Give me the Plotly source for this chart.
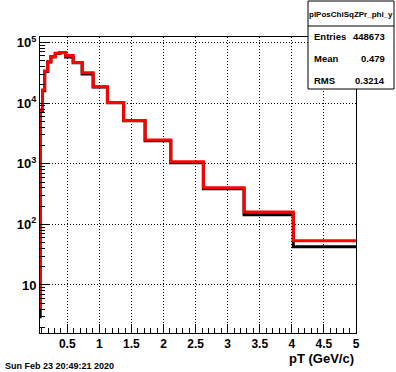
import plotly.graph_objects as go

# ---- data ----
pt_edges = [0.05, 0.078, 0.114, 0.148, 0.195, 0.245, 0.312, 0.382, 0.475, 0.592,
            0.732, 0.903, 1.126, 1.378, 1.713, 2.114, 2.621, 3.255, 4.023, 5.0]
red_counts = [4.2, 7690, 16400, 33900, 48200, 58300, 66400, 68400, 61000, 46800,
              31800, 18700, 10200, 5160, 2460, 1080, 402, 160, 53.6]
black_counts = [3.0, 7500, 16000, 33300, 47800, 58000, 66000, 67800, 57600, 46300,
                30200, 18400, 10100, 5100, 2400, 1040, 387, 144, 42.7]
y_tick_vals = [10, 100, 1000, 10000, 100000]
y_tick_text = ["10", "10<sup>2</sup>", "10<sup>3</sup>", "10<sup>4</sup>", "10<sup>5</sup>"]
stats_title = "plPosChiSqZPr_phi_y"
stats_rows = [("Entries", "448673"), ("Mean", "0.479"), ("RMS", "0.3214")]
x_title = "pT (GeV/c)"
date_text = "Sun Feb 23 20:49:21 2020"

W, H = 396, 372
ML, MR, MT, MB = 40, 40, 37, 39
PW, PH = W - ML - MR, H - MT - MB
FONT = "Liberation Sans, Arial, Helvetica, sans-serif"


def px_x(px):
    return (px - ML) / PW


def px_y(py):
    return (H - MB - py) / PH


def step(counts):
    return list(pt_edges), list(counts) + [counts[-1]]


fig = go.Figure()
bx, by = step(black_counts)
fig.add_trace(go.Scatter(x=bx, y=by, mode="lines", line=dict(color="black", width=3, shape="hv"),
                         showlegend=False, hoverinfo="skip"))
rx, ry = step(red_counts)
fig.add_trace(go.Scatter(x=rx, y=ry, mode="lines", line=dict(color="#ff0000", width=3, shape="hv"),
                         showlegend=False, hoverinfo="skip"))

minor_y = [m * 10 ** d for d in range(0, 6) for m in range(2, 10)]

fig.update_layout(
    width=W, height=H,
    margin=dict(l=ML, r=MR, t=MT, b=MB, pad=0),
    paper_bgcolor="white", plot_bgcolor="white",
    font=dict(family=FONT, color="black"),
    xaxis=dict(
        range=[0.075, 5.0], tick0=0, dtick=0.5,
        ticks="inside", ticklen=9, tickcolor="black", tickwidth=1,
        minor=dict(dtick=0.1, tick0=0, ticks="inside", ticklen=5, tickcolor="black", showgrid=False),
        showgrid=True, gridcolor="black", gridwidth=1, griddash="1px,2px",
        showline=True, linecolor="black", linewidth=1, mirror=True,
        zeroline=False,
        tickfont=dict(family=FONT, size=12, color="black", weight="bold"),
    ),
    yaxis=dict(
        type="log", range=[0.208, 5.091],
        tickmode="array", tickvals=y_tick_vals, ticktext=y_tick_text,
        ticks="inside", ticklen=10, tickcolor="black", tickwidth=1,
        minor=dict(tickmode="array", tickvals=minor_y, ticks="inside", ticklen=5,
                   tickcolor="black", showgrid=False),
        showgrid=True, gridcolor="black", gridwidth=1, griddash="1px,2px",
        showline=True, linecolor="black", linewidth=1, mirror=True,
        zeroline=False,
        tickfont=dict(family=FONT, size=13, color="black", weight="bold"),
    ),
)

# stats box
fig.add_shape(type="rect", xref="paper", yref="paper",
              x0=px_x(308), x1=px_x(394), y0=px_y(89), y1=px_y(1),
              line=dict(color="black", width=1), fillcolor="white", layer="above")
fig.add_shape(type="line", xref="paper", yref="paper",
              x0=px_x(308), x1=px_x(394), y0=px_y(26), y1=px_y(26),
              line=dict(color="black", width=1), layer="above")
fig.add_annotation(xref="paper", yref="paper", x=px_x(351), y=px_y(14), text=stats_title,
                   showarrow=False, xanchor="center", yanchor="middle",
                   font=dict(family=FONT, size=8, color="black", weight="bold"))
row_y = [36, 58, 80]
for (lab, val), yy in zip(stats_rows, row_y):
    fig.add_annotation(xref="paper", yref="paper", x=px_x(312), y=px_y(yy), text=lab,
                       showarrow=False, xanchor="left", yanchor="middle",
                       font=dict(family=FONT, size=9.5, color="black", weight="bold"))
    fig.add_annotation(xref="paper", yref="paper", x=px_x(387), y=px_y(yy), text=val,
                       showarrow=False, xanchor="right", yanchor="middle",
                       font=dict(family=FONT, size=9.5, color="black", weight="bold"))

# x-axis title (ROOT style, right aligned)
fig.add_annotation(xref="paper", yref="paper", x=px_x(356), y=px_y(358.5), text=x_title,
                   showarrow=False, xanchor="right", yanchor="middle",
                   font=dict(family=FONT, size=13, color="black", weight="bold"))
# date stamp
fig.add_annotation(xref="paper", yref="paper", x=px_x(3), y=px_y(366), text=date_text,
                   showarrow=False, xanchor="left", yanchor="middle",
                   font=dict(family=FONT, size=9, color="black", weight="bold"))

fig.write_html("out.html", config={"displayModeBar": False},
               post_script="document.body.style.margin='0px';document.body.style.overflow='hidden';")
